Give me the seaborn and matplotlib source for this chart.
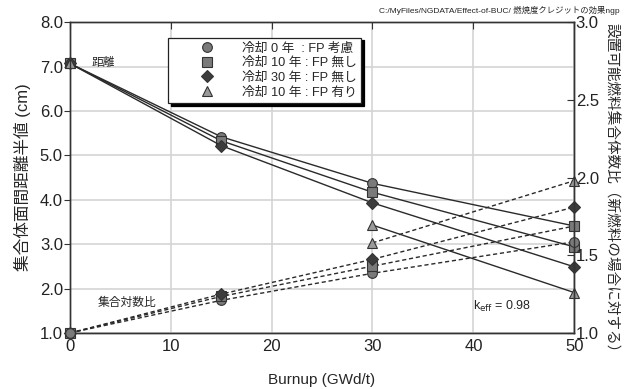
import numpy as np
import pandas as pd
import matplotlib
matplotlib.use("Agg")
import matplotlib.pyplot as plt
import seaborn as sns
from matplotlib.lines import Line2D

sns.set_style("white")
plt.rcParams['font.family'] = ['Liberation Sans', 'Noto Sans CJK JP', 'DejaVu Sans']

# series labels
labels = ["冷却 0 年  : FP 考慮", "冷却 10 年 : FP 無し", "冷却 30 年 : FP 無し", "冷却 10 年 : FP 有り"]
markers = ["o", "s", "D", "^"]
fills = ["#7a7a7a", "#7a7a7a", "#3c3c3c", "#9a9a9a"]

# distance half-value (cm), left axis
burnup_a = [0, 15, 30, 50]
dist_c0 = [7.07, 5.42, 4.37, 3.41]
dist_c10 = [7.07, 5.33, 4.17, 2.94]
dist_c30 = [7.07, 5.22, 3.93, 2.49]
burnup_fp = [30, 50]
dist_fp = [3.43, 1.91]

# assembly number ratio, right axis
ratio_c0 = [1.0, 1.21, 1.384, 1.587]
ratio_c10 = [1.0, 1.235, 1.43, 1.688]
ratio_c30 = [1.0, 1.25, 1.474, 1.81]
ratio_fp = [1.58, 1.98]

fig = plt.figure(figsize=(6.29, 3.89), dpi=100)
ax = fig.add_axes([0.111, 0.144, 0.802, 0.799])
ax2 = ax.twinx()

dist_sets = [(burnup_a, dist_c0), (burnup_a, dist_c10), (burnup_a, dist_c30), (burnup_fp, dist_fp)]
ratio_sets = [(burnup_a, ratio_c0), (burnup_a, ratio_c10), (burnup_a, ratio_c30), (burnup_fp, ratio_fp)]

def msize(m):
    return 6 if m == "D" else 7

for i, (xs, ys) in enumerate(dist_sets):
    d = pd.DataFrame({"x": xs, "y": ys})
    sns.lineplot(data=d, x="x", y="y", ax=ax, color="#2a2a2a", lw=1.0, marker=markers[i],
                 markersize=msize(markers[i]), markerfacecolor=fills[i],
                 markeredgecolor="#333333", markeredgewidth=0.8, sort=False, clip_on=False)
# shared start point marker
ax.plot([0], [7.07], marker="^", ms=7, mfc="#9a9a9a", mec="#333333", mew=0.8, clip_on=False, zorder=5)

for i, (xs, ys) in enumerate(ratio_sets):
    d = pd.DataFrame({"x": xs, "y": ys})
    sns.lineplot(data=d, x="x", y="y", ax=ax2, color="#2a2a2a", lw=1.0, ls=(0, (3, 2)),
                 marker=markers[i], markersize=msize(markers[i]),
                 markerfacecolor=fills[i], markeredgecolor="#333333", markeredgewidth=0.8,
                 sort=False, clip_on=False)
ax2.plot([0], [1.0], marker="o", ms=7, mfc="#7a7a7a", mec="#333333", mew=0.8, clip_on=False, zorder=5)

ax.set_xlim(0, 50)
ax.set_ylim(1.0, 8.0)
ax2.set_ylim(1.0, 3.0)
ax.set_xticks([0, 10, 20, 30, 40, 50])
ax.set_yticks(np.arange(1.0, 8.01, 1.0))
ax.set_yticklabels([f"{v:.1f}" for v in np.arange(1.0, 8.01, 1.0)])
ax2.set_yticks([1.0, 1.5, 2.0, 2.5, 3.0])
ax2.set_yticklabels(["1.0", "1.5", "2.0", "2.5", "3.0"])
ax.grid(True, color="#d4d4d4", lw=1.2)
ax.set_axisbelow(True)
for a in (ax, ax2):
    for s in a.spines.values():
        s.set_color("#333333")
        s.set_linewidth(1.0)
ax.tick_params(axis="y", direction="out", length=4, labelsize=12, pad=1, colors="#333333", labelcolor="#222222")
ax.tick_params(axis="x", direction="in", length=5, labelsize=12, pad=4, top=True, colors="#333333", labelcolor="#222222")
ax2.tick_params(axis="y", direction="in", length=5, labelsize=12, pad=1, colors="#333333", labelcolor="#222222")

ax.set_xlabel("Burnup (GWd/t)", fontsize=11, labelpad=14)
ax.set_ylabel("集合体面間距離半値 (cm)", fontsize=12, labelpad=6)
ax2.set_ylabel("設置可能燃料集合体数比（新燃料の場合に対する）", fontsize=10.5, rotation=270, va="center")
ax2.yaxis.set_label_coords(1.072, 0.455)
ax2.set_xlabel("")

ax.text(2.2, 7.07, "距離", fontsize=8.5, va="center")
ax.text(2.8, 1.68, "集合対数比", fontsize=8.5, va="center")
ax.text(40.0, 1.59, r"k$_{\rm eff}$ = 0.98", fontsize=9, va="center")
fig.text(0.985, 0.972, "C:/MyFiles/NGDATA/Effect-of-BUC/ 燃焼度クレジットの効果ngp",
         fontsize=6, ha="right", va="center")

handles = [Line2D([], [], ls="none", marker=markers[i], ms=msize(markers[i]),
                  mfc=fills[i], mec="#333333", mew=0.8) for i in range(4)]
leg = ax2.legend(handles, labels, loc="upper left", bbox_to_anchor=(0.195, 0.95), fontsize=9.2,
                 frameon=True, fancybox=False, edgecolor="#222222", framealpha=1,
                 shadow={"color": "black", "alpha": 1}, labelspacing=0.2, handletextpad=0.1,
                 borderpad=0.35, handlelength=5.3, borderaxespad=0)
leg.get_frame().set_linewidth(0.9)

fig.savefig("out.png", dpi=100)
